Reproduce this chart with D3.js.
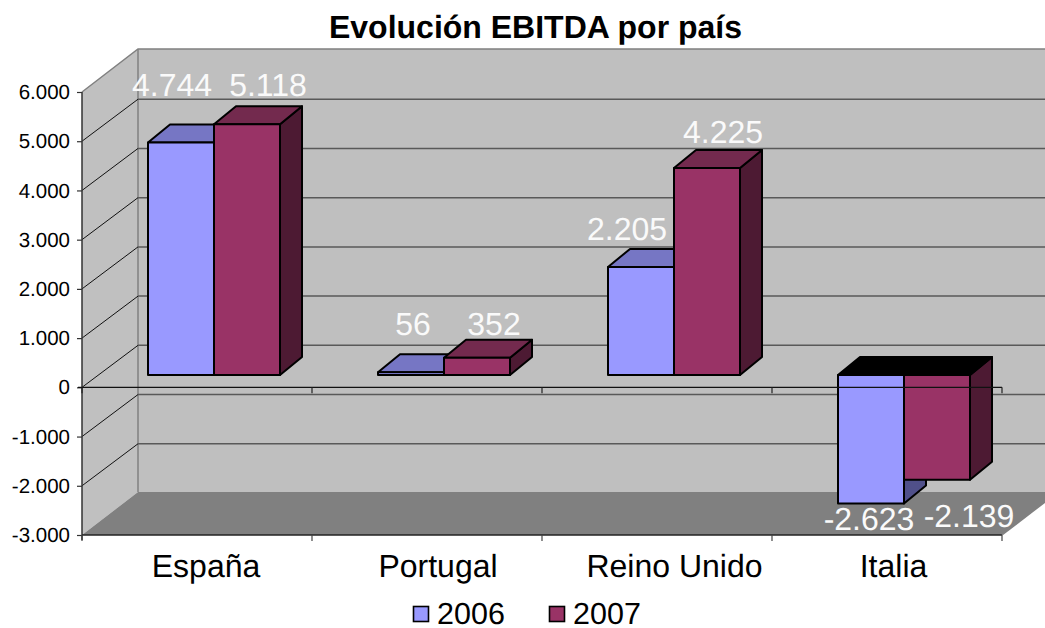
<!DOCTYPE html>
<html><head><meta charset="utf-8">
<style>html,body{margin:0;padding:0;background:#fff}svg{display:block}text{font-family:"Liberation Sans",Arial,sans-serif;text-rendering:geometricPrecision}</style>
<script src="https://cdnjs.cloudflare.com/ajax/libs/d3/7.8.5/d3.min.js"></script>
</head><body><svg id="c" width="1045" height="628"></svg>
<script>
const title = "Evolución EBITDA por país";
const categories = ["España","Portugal","Reino Unido","Italia"];
const seriesNames = ["2006","2007"];
const values2006 = [4744,56,2205,-2623];
const values2007 = [5118,352,4225,-2139];
const yTicks = [-3000,-2000,-1000,0,1000,2000,3000,4000,5000,6000];
const seriesColors = ["#9999FF","#993366"];
const topColors = ["#7676C4","#732A4E"];
const sideColors = ["#50508A","#4D1A33"];
// label nudges relative to bar centre, and label baselines
const labelDx2006 = [-9,2,-14,-2];
const labelDx2007 = [21,17,16,32];
const labelBaseline2006 = [96,335,240,530];
const labelBaseline2007 = [96,335,143,527];
const catNudge = [9,11,17.5,6.5];

const W=1045,H=628;
const svg=d3.select("#c");
const x=d3.scaleBand().domain(categories).range([82,1002]);
const y=d3.scaleLinear().domain([-3000,6000]).range([535,92]);
const wallDx=56, wallDy=-43, gridDy=-42;
const barOffX=17, depthX=22, depthY=-18, barW=66;
const yb=d3.scaleLinear().domain([0,1000]).range([375,326]);
const fmt=d3.formatLocale({decimal:",",thousands:".",grouping:[3],currency:["","€"],minus:"-"}).format(",d");
const poly=p=>p.map(d=>d.join(",")).join(" ");

const yMin=y(-3000),yMax=y(6000),xL=x.range()[0],xR=x.range()[1];
// walls
svg.append("polygon").attr("points",poly([[xL,yMax],[xL+wallDx,yMax+wallDy],[xL+wallDx,yMin+wallDy],[xL,yMin]])).attr("fill","#C0C0C0");
svg.append("polygon").attr("points",poly([[xL+wallDx,yMax+wallDy],[W+20,yMax+wallDy],[W+20,yMin+wallDy],[xL+wallDx,yMin+wallDy]])).attr("fill","#BFBFBF");
svg.append("polygon").attr("points",poly([[xL,yMin],[xL+wallDx,yMin+wallDy],[xR+wallDx,yMin+wallDy],[xR,yMin]])).attr("fill","#808080");
// wall borders
svg.append("polyline").attr("points",poly([[xL,yMax],[xL+wallDx,yMax+wallDy],[W+20,yMax+wallDy]])).attr("fill","none").attr("stroke","#808080").attr("stroke-width",1.5);
svg.append("line").attr("x1",xL+wallDx).attr("x2",xL+wallDx).attr("y1",yMax+wallDy).attr("y2",yMin+wallDy).attr("stroke","#808080").attr("stroke-width",1.5);
// grid
const inner=yTicks.filter(d=>d>-3000&&d<6000);
svg.selectAll(".gb").data(inner).join("line").attr("x1",xL+wallDx).attr("x2",W).attr("y1",d=>y(d)+gridDy).attr("y2",d=>y(d)+gridDy).attr("stroke","#595959").attr("stroke-width",1.5);
svg.selectAll(".gd").data(inner).join("line").attr("x1",xL).attr("x2",xL+wallDx).attr("y1",d=>y(d)).attr("y2",d=>y(d)+gridDy).attr("stroke","#111").attr("stroke-width",1);
// y axis
const ax=svg.append("g").attr("transform",`translate(${xL},0)`).call(d3.axisLeft(y).tickValues(yTicks).tickFormat(fmt).tickSize(5).tickPadding(6));
ax.select(".domain").attr("stroke","#333").attr("stroke-width",1.5).attr("d",`M0,${yMax}V${yMin+5}`);
ax.selectAll("line").attr("stroke","#333").attr("stroke-width",1.2);
ax.selectAll("text").attr("font-size",20.5).attr("font-family","Liberation Sans").attr("fill","#000").attr("text-anchor","end").attr("x",-12);

// bars
const barsData=[values2006,values2007];
categories.forEach((c,i)=>{
  const cx=x(c)+x.bandwidth()/2+barOffX;
  barsData.forEach((vals,s)=>{
    const v=vals[i];
    const x0=cx-barW+s*barW,x1=x0+barW;
    const yv=yb(v),y0=yb(0);
    const top=Math.min(yv,y0),bot=Math.max(yv,y0);
    const g=svg.append("g").attr("stroke","#000").attr("stroke-width",2).attr("stroke-linejoin","round");
    g.append("polygon").attr("points",poly([[x1,top],[x1+depthX,top+depthY],[x1+depthX,bot+depthY],[x1,bot]])).attr("fill",sideColors[s]);
    g.append("polygon").attr("points",poly([[x0,top],[x0+depthX,top+depthY],[x1+depthX,top+depthY],[x1,top]])).attr("fill",v<0?"#000":topColors[s]);
    g.append("rect").attr("x",x0).attr("y",top).attr("width",barW).attr("height",bot-top).attr("fill",seriesColors[s]);
  });
});

// zero axis and ticks
const y0=y(0);
svg.append("line").attr("x1",xL-4).attr("x2",xR).attr("y1",y0).attr("y2",y0).attr("stroke","#111").attr("stroke-width",1.3);
const edges=categories.map(c=>x(c)).concat([xR]);
svg.selectAll(".t0").data(edges).join("line").attr("x1",d=>d).attr("x2",d=>d).attr("y1",y0).attr("y2",y0+6).attr("stroke","#222").attr("stroke-width",1.2);
// bottom axis
const ab=svg.append("g").attr("transform",`translate(0,${yMin})`).call(d3.axisBottom(x).tickSize(0));
ab.select(".domain").attr("stroke","#222").attr("stroke-width",1.4).attr("d",`M${xL},0H${xR}`);
ab.selectAll("text").attr("font-size",32).attr("font-family","Liberation Sans").attr("fill","#000").attr("y",0).attr("dy",0)
  .attr("transform",(d,i)=>`translate(${catNudge[i]},42)`);
svg.selectAll(".t1").data(edges).join("line").attr("x1",d=>d).attr("x2",d=>d).attr("y1",yMin).attr("y2",yMin+6).attr("stroke","#444").attr("stroke-width",1.2);
// floor front-right edge
svg.append("line").attr("x1",xR).attr("y1",yMin).attr("x2",xR+wallDx).attr("y2",yMin+wallDy).attr("stroke","#808080").attr("stroke-width",1.5);

// data labels
const labelSets=[[values2006,labelDx2006,labelBaseline2006],[values2007,labelDx2007,labelBaseline2007]];
labelSets.forEach(([vals,dx,bl],s)=>{
  svg.selectAll(".l"+s).data(vals).join("text")
    .attr("x",(d,i)=>x(categories[i])+x.bandwidth()/2+barOffX+(s?barW/2:-barW/2)+dx[i])
    .attr("y",(d,i)=>bl[i]).attr("text-anchor","middle").attr("font-size",32).attr("fill","#FAFAFA").text(fmt);
});

// title
svg.append("text").attr("x",535.5).attr("y",38).attr("text-anchor","middle").attr("font-size",32).attr("font-weight","bold").attr("fill","#000").text(title);

// legend
const legendX=d3.scalePoint().domain(seriesNames).range([413.5,549.5]);
seriesNames.forEach((n,s)=>{
  const lx=legendX(n);
  svg.append("rect").attr("x",lx).attr("y",606.5).attr("width",15).attr("height",15).attr("fill",seriesColors[s]).attr("stroke","#000").attr("stroke-width",1.6);
  svg.append("text").attr("x",lx+23.5).attr("y",624).attr("font-size",30.5).attr("fill","#000").text(n);
});
</script></body></html>
